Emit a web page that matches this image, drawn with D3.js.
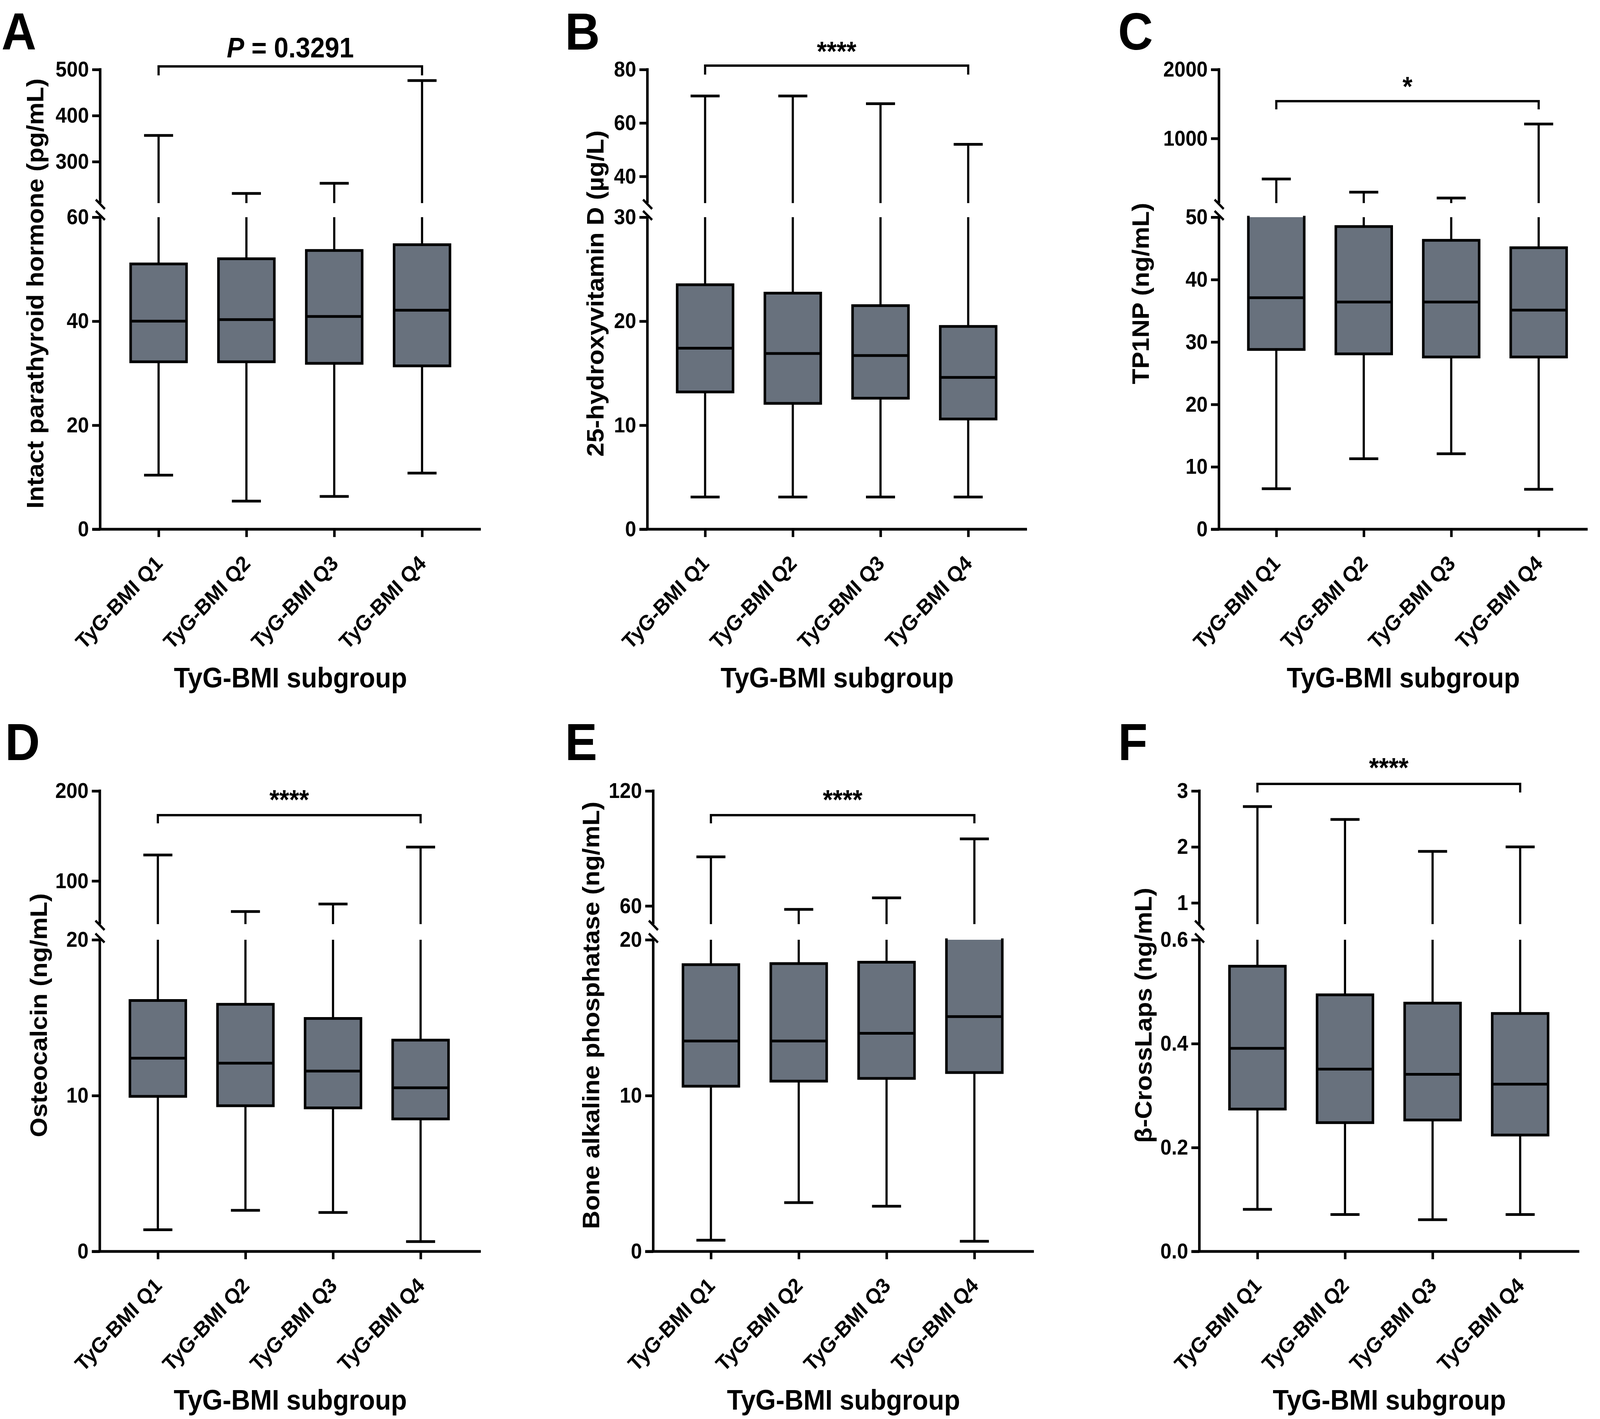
<!DOCTYPE html>
<html>
<head>
<meta charset="utf-8">
<script src="https://cdn.jsdelivr.net/npm/d3@7"></script>
<style>
  html, body { margin: 0; padding: 0; background: #fff; overflow: hidden; width: 100%; height: 100%; }
  svg { display: block; width: 100vw; height: 100vh; }
  text { font-family: "Liberation Sans", Arial, sans-serif; font-weight: bold; fill: #000; }
</style>
</head>
<body>
<svg id="fig"></svg>
<script>
// groups on the x axis
var categories = ["TyG-BMI Q1", "TyG-BMI Q2", "TyG-BMI Q3", "TyG-BMI Q4"]

// A - intact parathyroid hormone (pg/mL)
var pthMin = [10.4, 5.4, 6.3, 10.8]
var pthQ1 = [32.2, 32.2, 31.9, 31.4]
var pthMed = [40.0, 40.3, 40.9, 42.1]
var pthQ3 = [51.0, 52.0, 53.6, 54.7]
var pthMax = [357, 231, 253, 476]
var pthLowTicks = [0, 20, 40, 60]
var pthHighTicks = [300, 400, 500]

// B - 25-hydroxyvitamin D (ug/L)
var vitdMin = [3.1, 3.1, 3.1, 3.1]
var vitdQ1 = [13.2, 12.1, 12.6, 10.6]
var vitdMed = [17.4, 16.9, 16.7, 14.6]
var vitdQ3 = [23.5, 22.7, 21.5, 19.5]
var vitdMax = [70.1, 70.1, 67.2, 52.0]
var vitdLowTicks = [0, 10, 20, 30]
var vitdHighTicks = [40, 60, 80]

// C - TP1NP (ng/mL)
var p1npMin = [6.5, 11.3, 12.1, 6.4]
var p1npQ1 = [28.8, 28.1, 27.6, 27.6]
var p1npMed = [37.1, 36.4, 36.4, 35.1]
var p1npQ3 = [52, 48.5, 46.3, 45.1]
var p1npMax = [412, 220, 136, 1209]
var p1npLowTicks = [0, 10, 20, 30, 40, 50]
var p1npHighTicks = [1000, 2000]

// D - osteocalcin (ng/mL)
var ocMin = [1.39, 2.64, 2.5, 0.63]
var ocQ1 = [9.95, 9.35, 9.21, 8.5]
var ocMed = [12.4, 12.08, 11.57, 10.5]
var ocQ3 = [16.1, 15.86, 14.95, 13.56]
var ocMax = [128.8, 66, 74.4, 137.6]
var ocLowTicks = [0, 10, 20]
var ocHighTicks = [100, 200]

// E - bone alkaline phosphatase (ng/mL)
var balpMin = [0.72, 3.13, 2.9, 0.65]
var balpQ1 = [10.6, 10.93, 11.1, 11.48]
var balpMed = [13.5, 13.5, 14.0, 15.07]
var balpQ3 = [18.4, 18.47, 18.56, 21.5]
var balpMax = [85.6, 58.2, 64.2, 95]
var balpLowTicks = [0, 10, 20]
var balpHighTicks = [60, 120]

// F - beta-CrossLaps (ng/mL)
var ctxMin = [0.081, 0.071, 0.061, 0.071]
var ctxQ1 = [0.274, 0.248, 0.253, 0.224]
var ctxMed = [0.391, 0.351, 0.341, 0.322]
var ctxQ3 = [0.549, 0.494, 0.478, 0.458]
var ctxMax = [2.72, 2.49, 1.92, 2.0]
var ctxLowTicks = [0, 0.2, 0.4, 0.6]
var ctxHighTicks = [1, 2, 3]

var W = 4409, H = 3633
var boxFill = "#68717d"
var boxW = 154, capW = 80

// the drawing is laid out in a 4409x3633 box and stretched over the whole window
var svg = d3.select("#fig")
  .attr("viewBox", "0 0 " + W + " " + H)
  .attr("preserveAspectRatio", "none")
svg.append("rect").attr("width", W).attr("height", H).attr("fill", "#fff")

// vertical layout of the two rows (top of upper piece, bottom of upper piece, top of lower piece, zero line)
var rows = [
  { highTop: 178, highBottom: 520, lowTop: 556, lowBottom: 1355, letterY: 127 },
  { highTop: 2025, highBottom: 2366, lowTop: 2406, lowBottom: 3204, letterY: 1946 }
]

var panels = [
  { letter: "A", lx: 4, row: 0, axisX: 276, x0: 437, x1: 1163, xEnd: 1325, titleDx: -156,
    title: "Intact parathyroid hormone (pg/mL)",
    min: pthMin, q1: pthQ1, med: pthMed, q3: pthQ3, max: pthMax,
    lowDomain: [0, 60], highDomain: [210, 500], lowTicks: pthLowTicks, highTicks: pthHighTicks, fmt: d3.format("d"),
    sig: "P", bracketY: 170, dropY: 193, sigY: 147 },
  { letter: "B", lx: 1557, row: 0, axisX: 1784, x0: 1943, x1: 2668, xEnd: 2830, titleDx: -121,
    title: "25-hydroxyvitamin D (\u00b5g/L)",
    min: vitdMin, q1: vitdQ1, med: vitdMed, q3: vitdQ3, max: vitdMax,
    lowDomain: [0, 30], highDomain: [30, 80], lowTicks: vitdLowTicks, highTicks: vitdHighTicks, fmt: d3.format("d"),
    sig: "****", bracketY: 168, dropY: 191, sigY: 156 },
  { letter: "C", lx: 3081, row: 0, axisX: 3359, x0: 3517, x1: 4240, xEnd: 4375, titleDx: -193,
    title: "TP1NP (ng/mL)",
    min: p1npMin, q1: p1npQ1, med: p1npMed, q3: p1npQ3, max: p1npMax,
    lowDomain: [0, 50], highDomain: [62, 2000], lowTicks: p1npLowTicks, highTicks: p1npHighTicks, fmt: d3.format("d"),
    sig: "*", bracketY: 259, dropY: 280, sigY: 246 },
  { letter: "D", lx: 14, row: 1, axisX: 275, x0: 435, x1: 1159, xEnd: 1325, titleDx: -146,
    title: "Osteocalcin (ng/mL)",
    min: ocMin, q1: ocQ1, med: ocMed, q3: ocQ3, max: ocMax,
    lowDomain: [0, 20], highDomain: [52, 200], lowTicks: ocLowTicks, highTicks: ocHighTicks, fmt: d3.format("d"),
    sig: "****", bracketY: 2087, dropY: 2108, sigY: 2072 },
  { letter: "E", lx: 1557, row: 1, axisX: 1800, x0: 1959, x1: 2685, xEnd: 2849, titleDx: -149,
    title: "Bone alkaline phosphatase (ng/mL)",
    min: balpMin, q1: balpQ1, med: balpMed, q3: balpQ3, max: balpMax,
    lowDomain: [0, 20], highDomain: [50.5, 120], lowTicks: balpLowTicks, highTicks: balpHighTicks, fmt: d3.format("d"),
    sig: "****", bracketY: 2087, dropY: 2108, sigY: 2072 },
  { letter: "F", lx: 3081, row: 1, axisX: 3305, x0: 3465, x1: 4189, xEnd: 4352, titleDx: -132,
    title: "\u03b2-CrossLaps (ng/mL)",
    min: ctxMin, q1: ctxQ1, med: ctxMed, q3: ctxQ3, max: ctxMax,
    lowDomain: [0, 0.6], highDomain: [0.62, 3], lowTicks: ctxLowTicks, highTicks: ctxHighTicks, fmt: d3.format(".1f"),
    highFmt: d3.format("d"),
    sig: "****", bracketY: 2007, dropY: 2029, sigY: 1990 }
]

function styleAxis(g) {
  g.attr("font-family", null).attr("font-size", null)
  g.select(".domain").remove()
  g.selectAll(".tick line").attr("stroke", "#000").attr("stroke-width", 7)
  g.selectAll(".tick text").attr("font-size", 55)
}

function drawPanel(p) {
  var row = rows[p.row]
  var g = svg.append("g")

  var x = d3.scalePoint().domain(categories).range([p.x0, p.x1])
  var yLow = d3.scaleLinear().domain(p.lowDomain).range([row.lowBottom, row.lowTop])
  var yHigh = d3.scaleLinear().domain(p.highDomain).range([row.highBottom, row.highTop])

  // panel letter
  g.append("text").attr("x", p.lx).attr("y", row.letterY)
    .attr("font-size", 133).text(p.letter)

  // y axis, two pieces
  g.append("line").attr("x1", p.axisX).attr("x2", p.axisX)
    .attr("y1", row.lowTop).attr("y2", row.lowBottom)
    .attr("stroke", "#000").attr("stroke-width", 7)
  g.append("line").attr("x1", p.axisX).attr("x2", p.axisX)
    .attr("y1", row.highTop - 3.5).attr("y2", row.highBottom)
    .attr("stroke", "#000").attr("stroke-width", 7)

  g.append("g").attr("transform", "translate(" + p.axisX + ",0)")
    .call(d3.axisLeft(yLow).tickValues(p.lowTicks).tickFormat(p.fmt).tickSize(22).tickPadding(9).tickSizeOuter(0))
    .call(styleAxis)
  g.append("g").attr("transform", "translate(" + p.axisX + ",0)")
    .call(d3.axisLeft(yHigh).tickValues(p.highTicks).tickFormat(p.highFmt || p.fmt).tickSize(22).tickPadding(9).tickSizeOuter(0))
    .call(styleAxis)

  // break marks
  g.append("line").attr("x1", p.axisX - 12).attr("y1", row.highBottom - 9)
    .attr("x2", p.axisX + 13).attr("y2", row.highBottom + 15)
    .attr("stroke", "#000").attr("stroke-width", 6)
  g.append("line").attr("x1", p.axisX - 12).attr("y1", row.lowTop - 16)
    .attr("x2", p.axisX + 13).attr("y2", row.lowTop + 7)
    .attr("stroke", "#000").attr("stroke-width", 6)

  // x axis line (runs a tick length left of the y axis)
  g.append("line").attr("x1", p.axisX - 22).attr("x2", p.xEnd)
    .attr("y1", row.lowBottom).attr("y2", row.lowBottom)
    .attr("stroke", "#000").attr("stroke-width", 7)

  var xg = g.append("g").attr("transform", "translate(0," + row.lowBottom + ")")
    .call(d3.axisBottom(x).tickSize(20).tickSizeOuter(0))
    .call(styleAxis)
  xg.selectAll(".tick text")
    .attr("x", 0).attr("y", 0).attr("dy", "0.35em")
    .attr("text-anchor", "end")
    .attr("transform", "translate(0,77) rotate(-45)")

  // axis titles
  var yMid = (row.highTop + row.lowBottom) / 2 - 15
  g.append("text")
    .attr("transform", "translate(" + (p.axisX + p.titleDx) + "," + yMid + ") rotate(-90)")
    .attr("text-anchor", "middle").attr("font-size", 65).text(p.title)
  g.append("text")
    .attr("x", (p.axisX + p.xEnd) / 2).attr("y", row.lowBottom + 405)
    .attr("text-anchor", "middle").attr("font-size", 72).text("TyG-BMI subgroup")

  // boxes and whiskers, drawn separately in each axis piece
  var pieces = [{ y: yLow, lo: p.lowDomain[0], hi: p.lowDomain[1] },
                { y: yHigh, lo: p.highDomain[0], hi: p.highDomain[1] }]

  categories.forEach(function(c, i) {
    var cx = x(c)
    pieces.forEach(function(s) {
      var y = s.y
      var bLo = Math.max(p.q1[i], s.lo), bHi = Math.min(p.q3[i], s.hi)
      // upper whisker
      var wA = Math.max(p.q3[i], s.lo), wB = Math.min(p.max[i], s.hi)
      if (wB > wA) {
        g.append("line").attr("x1", cx).attr("x2", cx).attr("y1", y(wA)).attr("y2", y(wB))
          .attr("stroke", "#000").attr("stroke-width", 6)
      }
      if (p.max[i] >= s.lo && p.max[i] <= s.hi) {
        g.append("line").attr("x1", cx - capW / 2).attr("x2", cx + capW / 2)
          .attr("y1", y(p.max[i])).attr("y2", y(p.max[i]))
          .attr("stroke", "#000").attr("stroke-width", 7)
      }
      // lower whisker
      var lA = Math.max(p.min[i], s.lo), lB = Math.min(p.q1[i], s.hi)
      if (lB > lA) {
        g.append("line").attr("x1", cx).attr("x2", cx).attr("y1", y(lA)).attr("y2", y(lB))
          .attr("stroke", "#000").attr("stroke-width", 6)
      }
      if (p.min[i] >= s.lo && p.min[i] <= s.hi) {
        g.append("line").attr("x1", cx - capW / 2).attr("x2", cx + capW / 2)
          .attr("y1", y(p.min[i])).attr("y2", y(p.min[i]))
          .attr("stroke", "#000").attr("stroke-width", 7)
      }
      // box
      if (bHi > bLo) {
        var left = cx - boxW / 2, right = cx + boxW / 2
        g.append("rect").attr("x", left).attr("y", y(bHi))
          .attr("width", boxW).attr("height", y(bLo) - y(bHi))
          .attr("fill", boxFill)
        var path = d3.path()
        path.moveTo(left, y(bHi)); path.lineTo(left, y(bLo))
        path.moveTo(right, y(bHi)); path.lineTo(right, y(bLo))
        if (p.q3[i] <= s.hi) { path.moveTo(left, y(p.q3[i])); path.lineTo(right, y(p.q3[i])) }
        if (p.q1[i] >= s.lo) { path.moveTo(left, y(p.q1[i])); path.lineTo(right, y(p.q1[i])) }
        g.append("path").attr("d", path.toString()).attr("fill", "none")
          .attr("stroke", "#000").attr("stroke-width", 7).attr("stroke-linecap", "square")
        if (p.med[i] >= s.lo && p.med[i] <= s.hi) {
          g.append("line").attr("x1", left).attr("x2", right)
            .attr("y1", y(p.med[i])).attr("y2", y(p.med[i]))
            .attr("stroke", "#000").attr("stroke-width", 7)
        }
      }
    })
  })

  // significance bracket Q1 vs Q4
  var bx0 = x(categories[0]), bx1 = x(categories[3])
  g.append("path")
    .attr("d", "M" + bx0 + "," + p.dropY + "V" + p.bracketY + "H" + bx1 + "V" + p.dropY)
    .attr("fill", "none").attr("stroke", "#000").attr("stroke-width", 6)
  if (p.sig == "P") {
    var t = g.append("text").attr("x", (bx0 + bx1) / 2).attr("y", p.sigY)
      .attr("text-anchor", "middle").attr("font-size", 72)
    t.append("tspan").attr("font-style", "italic").text("P")
    t.append("tspan").text(" = 0.3291")
  } else {
    g.append("text").attr("x", (bx0 + bx1) / 2).attr("y", p.sigY)
      .attr("text-anchor", "middle").attr("font-size", 70).attr("font-weight", "normal")
      .text(p.sig)
  }
}

panels.forEach(drawPanel)
</script>
</body>
</html>
